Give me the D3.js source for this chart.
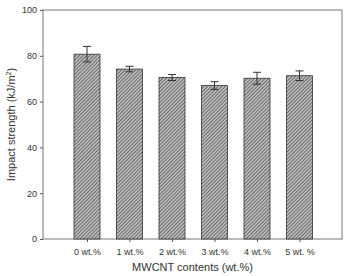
<html>
<head>
<script src="https://cdn.jsdelivr.net/npm/d3@7"></script>
<style>
  body { margin: 0; background: #fff; }
  text { font-family: "Liberation Sans", Arial, sans-serif; fill: #333; }
</style>
</head>
<body>
<svg id="chart" width="347" height="276"></svg>
<script>
// data
const contents = ["0 wt.%", "1 wt.%", "2 wt.%", "3 wt.%", "4 wt.%", "5 wt. %"];
const strength = [80.7, 74.2, 70.5, 67.0, 70.2, 71.3];
const errors = [3.4, 1.2, 1.3, 1.7, 2.6, 2.1];
const yTicks = [0, 20, 40, 60, 80, 100];

const svg = d3.select("#chart");
const mLeft = 43, mRight = 342, mTop = 10, mBottom = 239;

// hatch pattern for the bars
svg.append("defs").append("pattern")
  .attr("id", "hatch")
  .attr("patternUnits", "userSpaceOnUse")
  .attr("width", 2.5).attr("height", 2.5)
  .attr("patternTransform", "rotate(45)")
  .call(p => {
    p.append("rect").attr("width", 2.5).attr("height", 2.5).attr("fill", "#bdbdbd");
    p.append("line").attr("x1", 0).attr("y1", 0).attr("x2", 0).attr("y2", 2.5)
      .attr("stroke", "#3a3a3a").attr("stroke-width", 1.2);
  });

const x = d3.scalePoint().domain(contents).range([mLeft + 1.5, mRight]).padding(1);
const y = d3.scaleLinear().domain([0, 100]).range([mBottom, mTop]);
const barW = 26;

// frame
svg.append("rect")
  .attr("x", mLeft).attr("y", mTop)
  .attr("width", mRight - mLeft).attr("height", mBottom - mTop)
  .attr("fill", "none").attr("stroke", "#777").attr("stroke-width", 1);

// bars
svg.append("g").selectAll("rect").data(strength).enter().append("rect")
  .attr("x", (d, i) => x(contents[i]) - barW / 2)
  .attr("y", d => y(d))
  .attr("width", barW)
  .attr("height", d => y(0) - y(d))
  .attr("fill", "url(#hatch)")
  .attr("stroke", "#333").attr("stroke-width", 0.8);

// error bars
const eb = svg.append("g").attr("stroke", "#333").attr("stroke-width", 1);
strength.forEach((d, i) => {
  const cx = x(contents[i]);
  eb.append("line").attr("x1", cx).attr("x2", cx).attr("y1", y(d + errors[i])).attr("y2", y(d - errors[i]));
  eb.append("line").attr("x1", cx - 4).attr("x2", cx + 4).attr("y1", y(d + errors[i])).attr("y2", y(d + errors[i]));
  eb.append("line").attr("x1", cx - 4).attr("x2", cx + 4).attr("y1", y(d - errors[i])).attr("y2", y(d - errors[i]));
});

// axes
const yAxis = svg.append("g").attr("transform", `translate(${mLeft},0)`)
  .call(d3.axisLeft(y).tickValues(yTicks).tickSize(3).tickPadding(3));
const xAxis = svg.append("g").attr("transform", `translate(0,${mBottom})`)
  .call(d3.axisBottom(x).tickSize(3).tickPadding(7));
[yAxis, xAxis].forEach(a => {
  a.select(".domain").remove();
  a.selectAll("line").attr("stroke", "#555");
  a.selectAll("text").style("font-family", "Liberation Sans, Arial, sans-serif")
    .style("font-size", "9px").attr("fill", "#333");
});

// axis titles
svg.append("text")
  .attr("x", (mLeft + mRight) / 2).attr("y", 271)
  .attr("text-anchor", "middle").style("font-size", "11px")
  .text("MWCNT contents (wt.%)");

svg.append("text")
  .attr("transform", `translate(15,${(mTop + mBottom) / 2}) rotate(-90)`)
  .attr("text-anchor", "middle").style("font-size", "11px")
  .html("Impact strength (kJ/m<tspan dy='-4' font-size='7px'>2</tspan><tspan dy='4'>)</tspan>");
</script>
</body>
</html>
